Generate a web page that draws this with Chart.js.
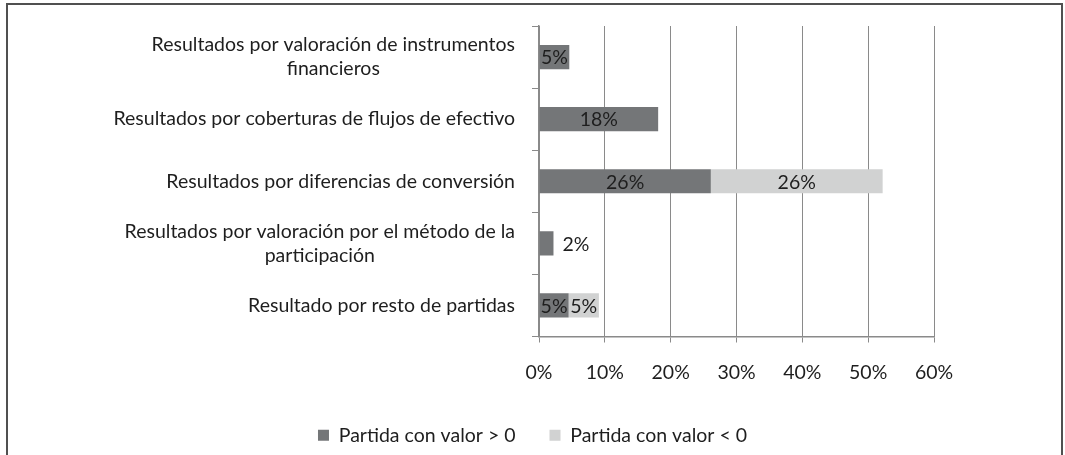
<!DOCTYPE html>
<html>
<head>
<meta charset="utf-8">
<script src="https://cdn.jsdelivr.net/npm/chart.js@4.4.0/dist/chart.umd.min.js"></script>
<style>
  html, body { margin: 0; padding: 0; background: #ffffff; overflow: hidden; }
  #wrap { position: relative; width: 1065px; height: 455px; }
  #frame { position: absolute; left: 6px; top: 3px; width: 1053px; height: 470px;
           border: 2px solid #505050; border-bottom: none; box-sizing: content-box; }
  #c { position: absolute; left: 0; top: 0; }
</style>
</head>
<body>
<div id="wrap">
  <div id="frame"></div>
  <canvas id="c" width="1065" height="455"></canvas>
</div>
<script>
const categories = [
  ["Resultados por valoración de instrumentos", "financieros"],
  ["Resultados por coberturas de flujos de efectivo"],
  ["Resultados por diferencias de conversión"],
  ["Resultados por valoración por el método de la", "participación"],
  ["Resultado por resto de partidas"]
];
const seriesNames = ["Partida con valor > 0", "Partida con valor < 0"];
const positiveValues = [4.6, 18.1, 26.1, 2.2, 4.5];
const negativeValues = [null, null, 26.1, null, 4.6];
const xTickValues = [0, 10, 20, 30, 40, 50, 60];

const FONT = "Lato";
const FS = 19.5;
const TEXT = "#1e1e1e";

const yLabelPlugin = {
  id: "yLabels",
  afterDraw(chart) {
    const ctx = chart.ctx;
    const ys = chart.scales.y;
    const right = chart.chartArea.left - 24;
    ctx.save();
    ctx.font = FS + "px " + FONT;
    ctx.fillStyle = TEXT;
    ctx.textBaseline = "middle";
    ctx.textAlign = "center";
    const lh = 24;
    categories.forEach((lines, i) => {
      const cy = ys.getPixelForValue(i);
      const w = Math.max(...lines.map(l => ctx.measureText(l).width));
      const cx = right - w / 2;
      const y0 = cy - (lines.length - 1) * lh / 2;
      lines.forEach((l, k) => ctx.fillText(l, cx, y0 + k * lh));
    });
    ctx.restore();
  }
};

const dataLabelPlugin = {
  id: "barLabels",
  afterDatasetsDraw(chart) {
    const ctx = chart.ctx;
    ctx.save();
    ctx.font = FS + "px " + FONT;
    ctx.fillStyle = TEXT;
    ctx.textBaseline = "middle";
    chart.data.datasets.forEach((ds, di) => {
      const meta = chart.getDatasetMeta(di);
      meta.data.forEach((el, i) => {
        const v = ds.data[i];
        if (v === null || v === undefined) return;
        const txt = Math.round(v) + "%";
        const w = el.x - el.base;
        if (w < 20) {
          ctx.textAlign = "left";
          ctx.fillText(txt, el.x + 9, el.y + 1);
        } else {
          ctx.textAlign = "center";
          ctx.fillText(txt, (el.x + el.base) / 2, el.y + 1);
        }
      });
    });
    ctx.restore();
  }
};

new Chart(document.getElementById("c"), {
  type: "bar",
  data: {
    labels: categories,
    datasets: [
      { label: seriesNames[0], data: positiveValues, backgroundColor: "#747678",
        barPercentage: 0.39, categoryPercentage: 1 },
      { label: seriesNames[1], data: negativeValues, backgroundColor: "#d1d2d2",
        barPercentage: 0.39, categoryPercentage: 1 }
    ]
  },
  options: {
    indexAxis: "y",
    responsive: false,
    animation: false,
    layout: { padding: { top: 26, right: 0, left: 0, bottom: 0 } },
    scales: {
      x: {
        stacked: true,
        min: xTickValues[0],
        max: xTickValues[xTickValues.length - 1],
        afterBuildTicks(s) { s.ticks = xTickValues.map(v => ({ value: v })); },
        ticks: {
          callback: v => v + "%",
          font: { family: FONT, size: FS },
          color: TEXT,
          padding: 19,
          maxRotation: 0
        },
        grid: { color: "#8a8a8a", lineWidth: 1, tickLength: 6 },
        border: { color: "#8a8a8a", width: 1.5 },
        afterFit(s) { s.height = 55; }
      },
      y: {
        stacked: true,
        offset: true,
        ticks: { display: false },
        grid: { offset: true, drawOnChartArea: false, tickLength: 7, color: "#8a8a8a" },
        border: { color: "#8a8a8a", width: 1.5 },
        afterFit(s) { s.width = 539; }
      },
      yRight: {
        type: "linear",
        axis: "y",
        position: "right",
        ticks: { display: false },
        grid: { display: false },
        border: { display: false },
        afterFit(s) { s.width = 131; }
      }
    },
    plugins: {
      legend: {
        position: "bottom",
        labels: {
          font: { family: FONT, size: FS },
          color: TEXT,
          boxWidth: 11,
          boxHeight: 11,
          padding: 34
        }
      },
      tooltip: { enabled: false }
    }
  },
  plugins: [yLabelPlugin, dataLabelPlugin]
});
</script>
</body>
</html>
